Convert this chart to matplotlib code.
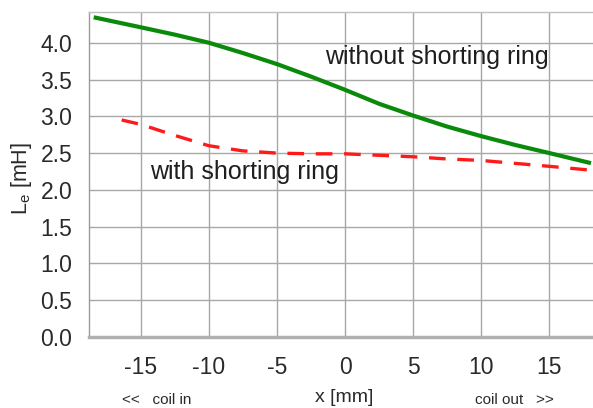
import matplotlib
matplotlib.use("Agg")
import matplotlib.pyplot as plt

plt.rcParams['font.family'] = ['Liberation Sans', 'DejaVu Sans']

# Inductance vs. coil position
x_without = [-18.3, -15, -12.5, -10, -7.5, -5, -2.5, 0, 2.5, 5, 7.5, 10, 12.5, 15, 17.9]
le_without = [4.34, 4.21, 4.11, 4.00, 3.86, 3.71, 3.54, 3.36, 3.17, 3.01, 2.86, 2.73, 2.61, 2.50, 2.37]

x_with = [-16.4, -15, -12.5, -10, -7.5, -5, -2.5, 0, 2.5, 5, 7.5, 10, 12.5, 15, 17.9]
le_with = [2.95, 2.89, 2.74, 2.60, 2.53, 2.50, 2.49, 2.49, 2.47, 2.45, 2.42, 2.40, 2.36, 2.32, 2.27]

xticks = [-15, -10, -5, 0, 5, 10, 15]
yticks = [0.0, 0.5, 1.0, 1.5, 2.0, 2.5, 3.0, 3.5, 4.0]

fig = plt.figure(figsize=(5.93, 4.08), dpi=100)
ax = fig.add_axes([0.150, 0.174, 0.850, 0.797])

ax.plot(x_without, le_without, color='#0a8a0a', lw=3.0, solid_joinstyle='round')
ax.plot(x_with, le_with, color='#ff1a1a', lw=2.4, dashes=(5, 3.5))

ax.set_xlim(-18.8, 18.2)
ax.set_ylim(0, 4.42)
ax.set_xticks(xticks)
ax.set_yticks(yticks)
ax.set_xticklabels([f"{t}" for t in xticks])
ax.set_yticklabels([f"{t:.1f}" for t in yticks])
ax.tick_params(length=0, labelsize=16.5, colors='#2a2a2a')
ax.tick_params(axis='x', pad=14)
ax.tick_params(axis='y', pad=12)
ax.grid(True, color='#a8a8a8', lw=1.0)
ax.set_axisbelow(True)

ax.spines['right'].set_visible(False)
ax.spines['top'].set_color('#c0c0c0')
ax.spines['top'].set_linewidth(1.0)
ax.spines['left'].set_color('#9a9a9a')
ax.spines['left'].set_linewidth(1.0)
ax.spines['bottom'].set_color('#b0b0b0')
ax.spines['bottom'].set_linewidth(2.5)

ax.text(-1.5, 3.81, 'without shorting ring', fontsize=18, va='center', ha='left', color='#1e1e1e')
ax.text(-14.3, 2.24, 'with shorting ring', fontsize=18, va='center', ha='left', color='#1e1e1e')

ax.set_ylabel('L$_\\mathregular{e}$ [mH]', fontsize=15.5, color='#2a2a2a', va='center')
ax.yaxis.set_label_coords(-0.133, 0.486)
fig.text(344 / 593, 1 - 398 / 408, 'x [mm]', fontsize=14, ha='center', va='center', color='#2a2a2a')
fig.text(122 / 593, 1 - 400 / 408, '<<   coil in', fontsize=11, ha='left', va='center', color='#2a2a2a')
fig.text(475 / 593, 1 - 400 / 408, 'coil out   >>', fontsize=11, ha='left', va='center', color='#2a2a2a')

fig.savefig('out.png', dpi=100)
